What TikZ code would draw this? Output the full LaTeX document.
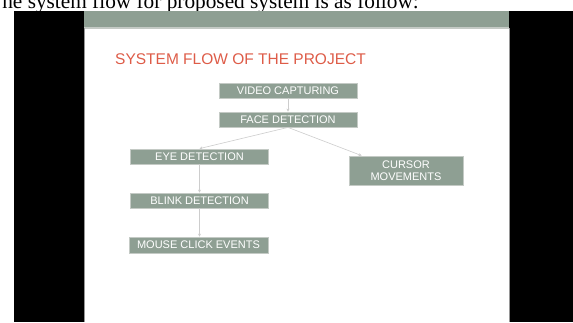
\documentclass[tikz,border=0pt]{standalone}
\usepackage{fontspec}
\setmainfont{Liberation Serif}
\newfontfamily\slidefont{Liberation Sans}
\usepackage{xcolor}
\usetikzlibrary{arrows.meta,positioning,calc}
\definecolor{slidegreen}{RGB}{142,159,147}
\definecolor{boxedge}{RGB}{196,202,197}
\definecolor{titlered}{RGB}{222,92,72}
\definecolor{flowgray}{RGB}{205,205,205}
\definecolor{slideedge}{RGB}{150,150,150}

\begin{document}
\begin{tikzpicture}[
    x=1pt, y=-1pt,
    >={Stealth[length=3pt,width=3pt]},
    flowbox/.style={draw=boxedge, line width=0.8pt, fill=slidegreen, text=white, align=center, font=\slidefont\fontsize{11}{12}\selectfont, inner sep=0pt, minimum width=138pt, minimum height=15pt},
    arrow/.style={->, flowgray, line width=0.6pt}
]
    \useasboundingbox (0,0) rectangle (573,322);
    \clip (0,0) rectangle (573,322);

    % Document line above the slide
    \node[anchor=base east, font=\fontsize{21.3}{25}\selectfont, inner sep=0pt] (intro) at (419,8) {The system flow for proposed system is as follow:};

    % Slide frame
    \fill[black] (14,11) rectangle (573,322);
    \fill[white] (84,27) rectangle (509,322);
    \fill[slidegreen] (84,11) rectangle (509,27);
    \draw[boxedge, line width=1.2pt] (84,28) -- (509,28);
    \draw[slideedge, line width=0.6pt] (84,28) -- (84,322) (509,28) -- (509,322);

    % Title
    \node[anchor=west, text=titlered, font=\slidefont\fontsize{15.5}{18}\selectfont, inner sep=0pt] (title) at (115,59.5) {SYSTEM FLOW OF THE PROJECT};

    % Flow blocks
    \node[flowbox] (video) at (288,90.5) {VIDEO CAPTURING};
    \node[flowbox] (face) at (288,119.5) {FACE DETECTION};
    \node[flowbox] (eye) at (199.5,156.5) {EYE DETECTION};
    \node[flowbox] (blink) at (199.5,200.5) {BLINK DETECTION};
    \node[flowbox, minimum width=139pt, minimum height=16pt] (mouse) at (198.5,245) {MOUSE CLICK EVENTS};
    \node[flowbox, minimum width=114pt, minimum height=29pt] (cursor) at (406,170.5) {CURSOR\\MOVEMENTS};

    % Connectors
    \draw[arrow] (video) -- (face);
    \draw[arrow] (face.south) -- (eye.north);
    \draw[arrow] (face.south) -- ([xshift=13pt]cursor.north west);
    \draw[arrow] (eye) -- (blink);
    \draw[arrow] (blink.south) -- (blink.south |- mouse.north);

\end{tikzpicture}
\end{document}
